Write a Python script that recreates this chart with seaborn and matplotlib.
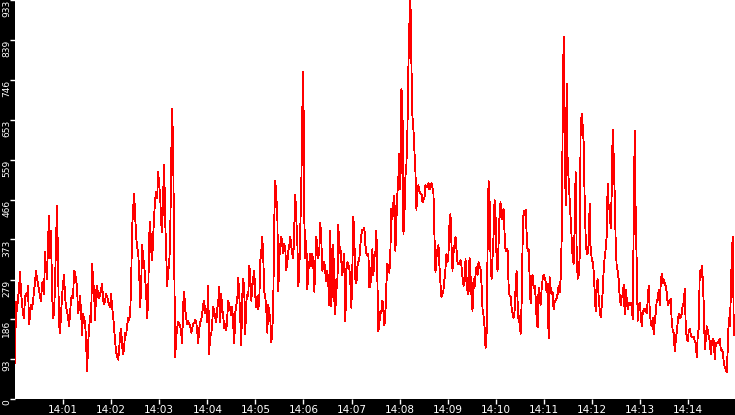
import numpy as np
import pandas as pd
import matplotlib
matplotlib.use("Agg")
import matplotlib.pyplot as plt
import seaborn as sns

# ---- data (roughly one sample per pixel column) ----
seg1 = [85,226,205,235,255,298,250,225,200,190,240,245,240,265,175,195,220,210,230,250,
        275,300,282,270,255,240,230,270,275,245,343,305,280,370,429,330,393,250,190,200,
        270,370,452,320,175,155,200,240,270,290,240,215,206,190,170,200,235,240,235,300,
        295,280,260,200,215,240,205,150,200,185,180,135,65,125,165,195,180,315,280,250,
        185,250,265,240,235,245,255,270,230,222]
seg2 = [230,245,240,230,220,215,245,215,195,165,135,110,100,92,115,150,165,125,105,120,
        155,150,170,190,185,195,270,400,445,480,430,380,355,345,300,214,260,360,330,315,
        280,250,188,230,380,415,350,325,380,430,465,485,470,530,500,475,410,390,480,548,
        420,340,265,300,315,370,560,679,580,350,97,145,165,180,175,170,155,130,220,250,
        210,190,175,183,175,170,155,165,175,178]
seg3 = [185,180,160,130,165,180,185,200,220,230,200,210,180,265,106,155,150,180,215,205,
        190,180,210,225,262,180,245,210,195,165,175,160,190,230,220,210,195,215,170,130,
        200,220,230,284,245,190,126,240,280,255,152,225,245,240,312,290,230,260,285,300,
        240,215,240,210,230,322,345,380,330,250,240,210,155,220,200,190,132,155,230,420,
        511,470,440,253,330,360,380,360,340]
seg4 = [363,350,302,320,345,360,380,355,340,330,406,478,420,370,263,300,400,500,675,766,
        420,330,370,257,300,320,340,310,340,310,251,320,380,355,330,350,412,370,300,310,
        320,295,275,300,265,220,394,216,310,360,230,199,280,260,408,340,355,320,290,320,
        340,182,300,320,315,305,270,213,310,427,370,280,270,310,320,330,360,385,395,395,
        400,360,340,335,340,261,265,310,350,290]
seg5 = [330,345,394,270,158,180,205,200,230,215,172,200,270,316,305,295,350,445,420,460,
        475,346,420,480,520,574,490,726,699,386,430,520,550,630,780,880,933,780,660,630,
        580,530,442,495,500,485,480,480,460,465,470,500,495,495,505,490,495,505,495,480,
        380,297,330,350,360,310,270,238,245,255,280,305,340,320,340,410,433,360,300,340,
        360,380,350,320,315,320,325,310,285,265]
seg6 = [270,327,290,250,245,331,290,240,205,280,260,290,310,290,320,310,305,270,210,195,
        170,120,140,340,511,470,330,280,330,380,465,430,330,300,360,430,460,420,425,445,
        390,345,350,350,270,240,240,215,200,190,205,260,300,230,180,195,151,220,360,440,
        430,443,390,345,350,290,223,280,290,260,265,240,190,167,260,240,220,255,280,290,
        285,275,250,270,142,285,260,245,250,210]
seg7 = [225,230,235,245,265,250,280,369,628,847,660,453,738,560,515,470,420,380,331,316,
        400,530,350,281,290,330,628,667,640,600,470,380,340,340,360,456,350,330,320,300,
        250,205,265,280,240,210,192,215,250,300,330,350,380,503,450,440,400,480,630,570,
        480,370,310,300,280,240,220,240,240,267,199,255,235,210,225,220,225,220,187,400,
        627,430,320,183,215,225,200,171,200,210]
seg8 = [205,210,200,230,265,210,180,170,190,152,180,200,230,235,255,220,270,292,270,280,
        270,265,250,220,230,225,235,180,160,155,112,135,160,180,200,190,190,200,220,225,
        257,170,140,135,160,165,150,145,145,145,135,130,97,150,165,300,285,312,280,220,
        116,140,170,160,145,135,105,130,140,135,93,130,130,130,135,140,115,115,110,85,
        75,70,62,120,190,171,240,340,380,150]

values = seg1 + seg2 + seg3 + seg4 + seg5 + seg6 + seg7 + seg8
duration_s = 897                      # 14:00:00 .. ~14:14:57
seconds = np.linspace(0, duration_s, len(values))
df = pd.DataFrame({"t": seconds, "v": values})

y_ticks = [0, 93, 186, 279, 373, 466, 559, 653, 746, 839, 933]
x_tick_labels = ["14:01", "14:02", "14:03", "14:04", "14:05", "14:06", "14:07",
                 "14:08", "14:09", "14:10", "14:11", "14:12", "14:13", "14:14"]
x_tick_pos = [60 * (i + 1) for i in range(len(x_tick_labels))]

# ---- figure ----
sns.set_theme(style="white")
plt.rcParams["font.family"] = ["DejaVu Sans"]
W, H = 735, 415
fig = plt.figure(figsize=(W / 100, H / 100), dpi=100, facecolor="black")
ax = fig.add_axes([15 / W, 16 / H, 720 / W, 399 / H])
ax.set_facecolor("white")

sns.lineplot(data=df, x="t", y="v", ax=ax, color="#ff0000", linewidth=0.6,
             antialiased=False, estimator=None)

ax.set_xlim(0, 898.5)
ax.set_ylim(0, 933)
ax.set_xlabel("")
ax.set_ylabel("")
for s in ax.spines.values():
    s.set_visible(False)

ax.set_yticks(y_ticks)
ax.set_yticklabels([str(v) for v in y_ticks], rotation=90, va="top",
                   color="white", fontsize=6.5)
ax.set_xticks(x_tick_pos)
ax.set_xticklabels(x_tick_labels, color="white", fontsize=7.5)
ax.tick_params(axis="y", direction="out", length=3.6, width=1, color="white",
               pad=-1, left=True)
ax.tick_params(axis="x", direction="out", length=3.6, width=1, color="white",
               pad=0.5, bottom=True)

fig.savefig("out.png", dpi=100, facecolor="black")
